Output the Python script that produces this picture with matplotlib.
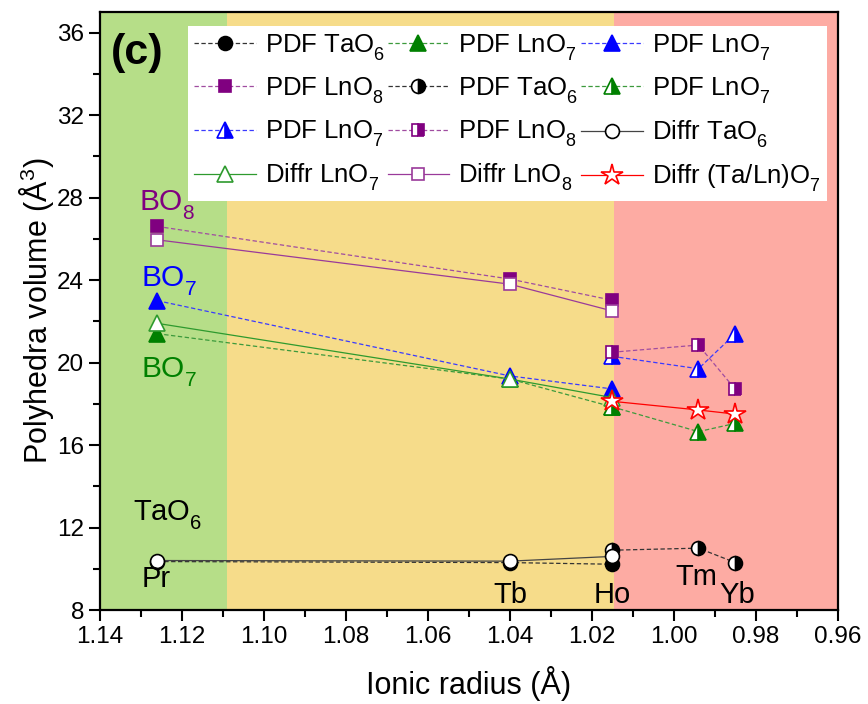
import matplotlib
matplotlib.use("Agg")
import matplotlib.pyplot as plt
from matplotlib.ticker import MultipleLocator

plt.rcParams['font.family'] = ['Liberation Sans', 'DejaVu Sans']
plt.rcParams['mathtext.fontset'] = 'custom'
plt.rcParams['mathtext.rm'] = 'Liberation Sans'
plt.rcParams['mathtext.it'] = 'Liberation Sans:italic'
plt.rcParams['mathtext.bf'] = 'Liberation Sans:bold'
plt.rcParams['mathtext.default'] = 'regular'

# Origin puts subscripts lower than mathtext does
try:
    from matplotlib import _mathtext
    _mathtext.FontConstantsBase.subdrop = 0.6
    _mathtext.FontConstantsBase.sub1 = 0.6
except Exception:
    pass

# ionic radii (A)
r_pr, r_tb, r_ho, r_tm, r_yb = 1.126, 1.040, 1.015, 0.994, 0.985
x_low = [r_pr, r_tb, r_ho]
x_high = [r_ho, r_tm, r_yb]

# PDF, low-radius side (filled markers)
pdf_tao6 = [10.35, 10.3, 10.22]
pdf_lno7_g = [21.4, 19.2, 17.85]
pdf_lno7_b = [23.0, 19.35, 18.72]
pdf_lno8 = [26.6, 24.05, 23.02]
# PDF, high-radius side (half-filled markers)
pdf_tao6_h = [10.9, 11.0, 10.3]
pdf_lno7_g_h = [17.85, 16.65, 17.05]
pdf_lno7_b_h = [20.3, 19.7, 21.4]
pdf_lno8_h = [20.5, 20.85, 18.7]
# diffraction (open markers)
dif_tao6 = [10.4, 10.37, 10.6]
dif_lno7 = [21.9, 19.2, 18.3]
dif_lno8 = [25.95, 23.8, 22.5]
dif_talno7 = [18.12, 17.7, 17.5]

regions = [(1.14, 1.109, '#b6de88'), (1.109, 1.0145, '#f6dc8a'), (1.0145, 0.96, '#fdaba3')]

GREEN, BLUE, PURPLE, BLACK, RED = '#008000', '#0000ff', '#800080', 'black', '#ff0000'
dash = (0, (3.5, 2.0))

fig = plt.figure(figsize=(8.68, 7.04), dpi=100)
ax = fig.add_axes([0.1152, 0.1335, 0.85, 0.8495])

for a, b, c in regions:
    ax.axvspan(b, a, color=c, lw=0, zorder=0)

handles = []
def series(x, y, marker, color, lcolor, ls, label, fill='full', face=None, ms=9):
    if face is None:
        face = color
    h, = ax.plot(x, y, ls=ls, color=lcolor, lw=0.9, marker=marker, ms=ms,
                 mfc=face, mec=color, mew=1.2, fillstyle=fill,
                 markerfacecoloralt='white', label=label, zorder=3)
    handles.append(h)

series(x_low, pdf_tao6, 'o', BLACK, '#333333', dash, 'PDF TaO$_6$', ms=10)
series(x_low, pdf_lno7_g, '^', GREEN, '#3c9a3c', dash, 'PDF LnO$_7$', ms=11)
series(x_low, pdf_lno7_b, '^', BLUE, '#3a3aff', dash, 'PDF LnO$_7$', ms=11)
series(x_low, pdf_lno8, 's', PURPLE, '#a04ca0', dash, 'PDF LnO$_8$', ms=9)
series(x_high, pdf_tao6_h, 'o', BLACK, '#333333', dash, 'PDF TaO$_6$', fill='right', ms=10)
series(x_high, pdf_lno7_g_h, '^', GREEN, '#3c9a3c', dash, 'PDF LnO$_7$', fill='right', ms=11)
series(x_high, pdf_lno7_b_h, '^', BLUE, '#3a3aff', dash, 'PDF LnO$_7$', fill='right', ms=11)
series(x_high, pdf_lno8_h, 's', PURPLE, '#a04ca0', dash, 'PDF LnO$_8$', fill='right', ms=9)
series(x_low, dif_tao6, 'o', BLACK, '#444444', '-', 'Diffr TaO$_6$', face='white', ms=10)
series(x_low, dif_lno7, '^', '#2e9a2e', '#2e9a2e', '-', 'Diffr LnO$_7$', face='white', ms=11)
series(x_low, dif_lno8, 's', '#9a3a9a', '#9a3a9a', '-', 'Diffr LnO$_8$', face='white', ms=9)
series(x_high, dif_talno7, '*', RED, RED, '-', 'Diffr (Ta/Ln)O$_7$', face='white', ms=16)

ax.set_xlim(1.14, 0.96)
ax.set_ylim(8, 37)
ax.xaxis.set_major_locator(MultipleLocator(0.02))
ax.xaxis.set_minor_locator(MultipleLocator(0.01))
ax.yaxis.set_major_locator(MultipleLocator(4))
ax.yaxis.set_minor_locator(MultipleLocator(2))
ax.xaxis.set_major_formatter(plt.FuncFormatter(lambda v, p: f"{v:.2f}"))
ax.tick_params(which='both', direction='out', width=1.5, labelsize=17.5, top=False, right=False)
ax.tick_params(which='major', length=8)
ax.tick_params(which='minor', length=5)
for s in ax.spines.values():
    s.set_linewidth(1.6)

ax.set_xlabel('Ionic radius (Å)', fontsize=22, labelpad=13)
ax.set_ylabel('Polyhedra volume (Å$^3$)', fontsize=22, labelpad=1)

ax.text(1.1374, 35.0, '(c)', fontsize=31, fontweight='bold', va='center', ha='left')
ax.text(1.1305, 27.4, 'BO$_8$', fontsize=21.5, color=PURPLE, va='baseline')
ax.text(1.1300, 23.67, 'BO$_7$', fontsize=21.5, color=BLUE, va='baseline')
ax.text(1.1300, 19.27, 'BO$_7$', fontsize=21.5, color=GREEN, va='baseline')
ax.text(1.1320, 12.33, 'TaO$_6$', fontsize=21, color='black', va='baseline')
ax.text(1.1298, 9.14, 'Pr', fontsize=21, va='baseline')
ax.text(1.040, 8.35, 'Tb', fontsize=21, va='baseline', ha='center')
ax.text(1.015, 8.35, 'Ho', fontsize=21, va='baseline', ha='center')
ax.text(0.9945, 9.2, 'Tm', fontsize=21, va='baseline', ha='center')
ax.text(0.9845, 8.35, 'Yb', fontsize=21, va='baseline', ha='center')

order = [0, 3, 6, 9, 1, 4, 7, 10, 2, 5, 8, 11]
leg = ax.legend([handles[i] for i in order], [handles[i].get_label() for i in order],
                ncol=3, loc='upper right', bbox_to_anchor=(0.985, 0.977),
                fontsize=18.5, frameon=True, fancybox=False, framealpha=1,
                edgecolor='none', handlelength=2.4, handletextpad=0.35,
                columnspacing=0.1, labelspacing=0.5, borderpad=0.25, borderaxespad=0)
leg.set_zorder(5)

fig.savefig('out.png', dpi=100)
